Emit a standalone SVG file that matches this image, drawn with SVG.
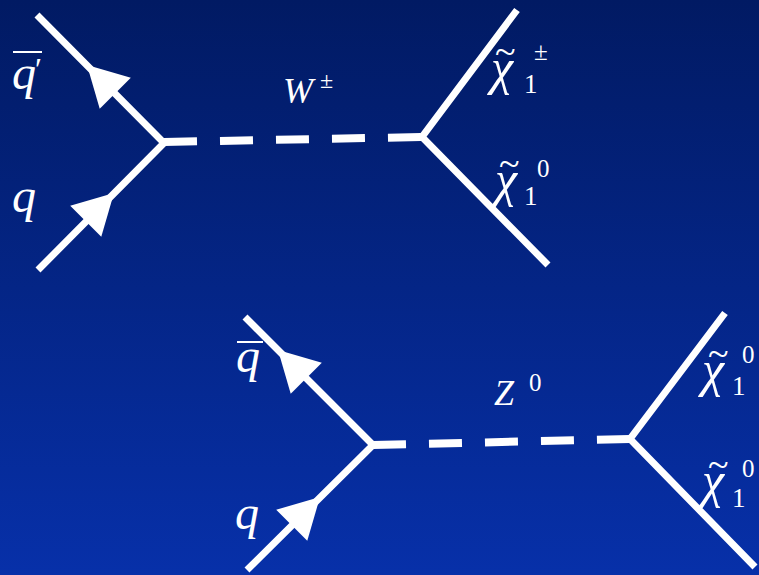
<svg xmlns="http://www.w3.org/2000/svg" width="759" height="575" viewBox="0 0 759 575">
<defs>
<linearGradient id="bg" x1="0" y1="0" x2="0" y2="1">
<stop offset="0" stop-color="#011a63"/>
<stop offset="1" stop-color="#0730a9"/>
</linearGradient>
<polygon id="arr" points="0,0 -40,-22 -40,22"/>
</defs>
<style>
.ln{stroke:#fff;stroke-width:7;fill:none;stroke-linecap:butt;stroke-linejoin:miter}
.ds{stroke:#fff;stroke-width:8;fill:none;stroke-dasharray:33 23}
.ah{fill:#fff}
.it{font-family:'Liberation Serif','Times New Roman',serif;font-style:italic;fill:#fff}
.rm{font-style:normal}
.ti{font-style:normal;font-size:38px}
.sb{font-style:normal;font-size:27px}
.sp{font-style:normal;font-size:25px}
.ov{stroke:#fff;stroke-width:2}
</style>
<rect width="759" height="575" fill="url(#bg)"/>
<g id="connectors">
<path class="ln" d="M37,15 L164,143 L38,270"/>
<path class="ds" d="M164,142 L422,137"/>
<path class="ln" d="M517,10 L422,137 L548,265"/>
<use href="#arr" class="ah" transform="translate(87,65) rotate(225)"/>
<use href="#arr" class="ah" transform="translate(114,193) rotate(-45)"/>
<path class="ln" d="M245,317 L373,445 L247,570"/>
<path class="ds" d="M373,445 L630,439"/>
<path class="ln" d="M725,313 L630,439 L755,567"/>
<use href="#arr" class="ah" transform="translate(278,350) rotate(225)"/>
<use href="#arr" class="ah" transform="translate(320,497) rotate(-45)"/>
</g>
<g id="qbarprime">
<line class="ov" x1="13" y1="52" x2="42" y2="52"/>
<text class="it" font-size="48"><tspan x="12" y="89">q</tspan><tspan x="33" y="80" font-size="32">′</tspan></text>
</g>
<g id="q1"><text class="it" x="12" y="212" font-size="48">q</text></g>
<g id="W"><text class="it" font-size="36"><tspan x="283" y="103">W</tspan><tspan class="rm" x="320" y="88" font-size="24">±</tspan></text></g>
<g id="chipm">
<text class="it" font-size="50"><tspan x="491" y="84">χ</tspan><tspan class="ti" x="495" y="64">~</tspan><tspan class="sb" x="524" y="93">1</tspan><tspan class="sp" x="534" y="60">±</tspan></text>
</g>
<g id="chi01">
<text class="it" font-size="50"><tspan x="495" y="196">χ</tspan><tspan class="ti" x="499" y="176">~</tspan><tspan class="sb" x="524" y="205">1</tspan><tspan class="sp" x="537" y="177">0</tspan></text>
</g>
<g id="qbar">
<line class="ov" x1="237" y1="342" x2="263" y2="342"/>
<text class="it" x="236" y="372" font-size="48">q</text>
</g>
<g id="q2"><text class="it" x="235" y="529" font-size="48">q</text></g>
<g id="Z"><text class="it" font-size="36"><tspan x="494" y="405">Z</tspan><tspan class="rm" x="529" y="391" font-size="25">0</tspan></text></g>
<g id="chi02a">
<text class="it" font-size="50"><tspan x="702" y="386">χ</tspan><tspan class="ti" x="708" y="366">~</tspan><tspan class="sb" x="732" y="395">1</tspan><tspan class="sp" x="742" y="363">0</tspan></text>
</g>
<g id="chi02b">
<text class="it" font-size="50"><tspan x="702" y="497">χ</tspan><tspan class="ti" x="708" y="477">~</tspan><tspan class="sb" x="732" y="507">1</tspan><tspan class="sp" x="742" y="477">0</tspan></text>
</g>
</svg>
